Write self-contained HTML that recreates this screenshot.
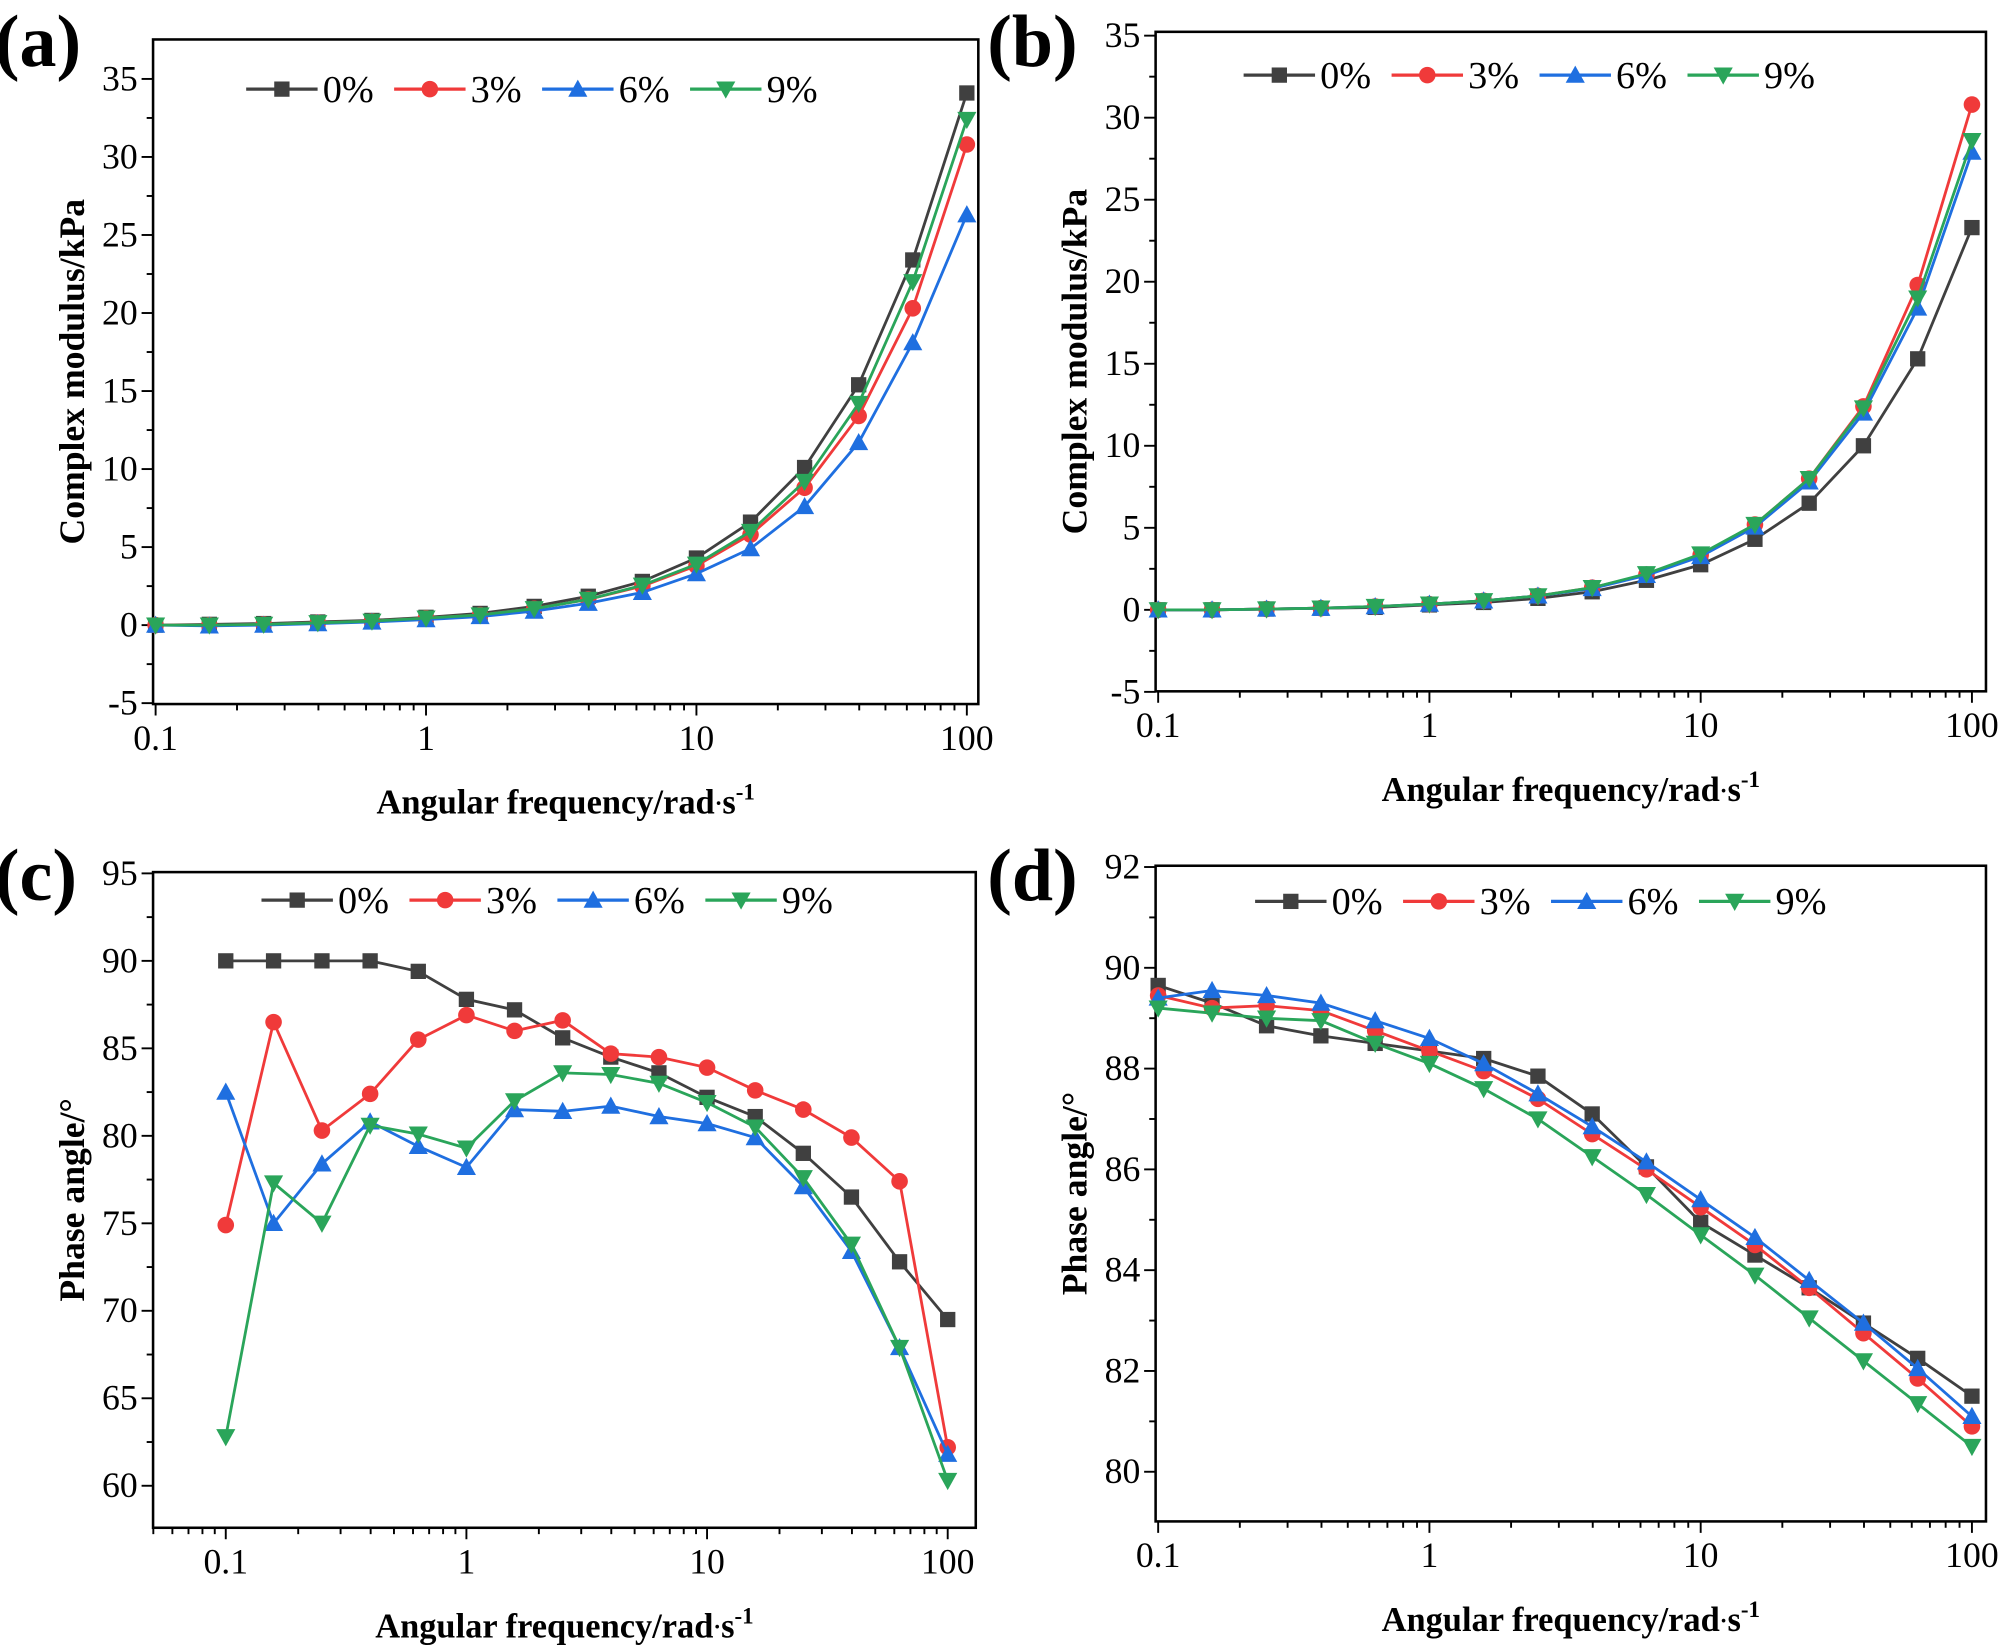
<!DOCTYPE html>
<html><head><meta charset="utf-8"><style>
html,body{margin:0;padding:0;background:#fff}
svg{display:block}
text{font-family:"Liberation Serif",serif}
</style></head><body>
<svg id="fig" width="2000" height="1650" viewBox="0 0 1568 1296" preserveAspectRatio="none" xmlns="http://www.w3.org/2000/svg"></svg>
<script>
const freqs=[0.1,0.158,0.251,0.398,0.631,1,1.585,2.512,3.981,6.31,10,15.85,25.12,39.81,63.1,100];
const seriesNames=["0%","3%","6%","9%"];
const aS0=[0,0.05,0.1,0.2,0.3,0.5,0.75,1.2,1.85,2.8,4.3,6.6,10.1,15.4,23.4,34.1];
const aS3=[0,0,0.05,0.15,0.25,0.45,0.65,1.05,1.65,2.5,3.8,5.8,8.8,13.4,20.3,30.8];
const aS6=[0,-0.05,0,0.1,0.2,0.35,0.55,0.9,1.4,2.1,3.3,4.9,7.6,11.7,18.1,26.3];
const aS9=[0,0,0.05,0.15,0.25,0.45,0.65,1.05,1.65,2.55,3.9,6.0,9.2,14.2,22.0,32.4];
const bS0=[0,0,0.05,0.1,0.15,0.3,0.45,0.7,1.1,1.8,2.75,4.3,6.5,10.0,15.3,23.3];
const bS3=[0,0,0.05,0.1,0.2,0.35,0.55,0.85,1.35,2.15,3.35,5.2,8.0,12.4,19.8,30.8];
const bS6=[0,0,0.05,0.1,0.2,0.35,0.55,0.85,1.3,2.1,3.25,5.05,7.8,12.0,18.4,27.9];
const bS9=[0,0,0.05,0.1,0.2,0.35,0.55,0.85,1.35,2.2,3.4,5.2,8.0,12.3,19.0,28.6];
const cS0=[90,90,90,90,89.4,87.8,87.2,85.6,84.5,83.6,82.2,81.1,79.0,76.5,72.8,69.5];
const cS3=[74.9,86.5,80.3,82.4,85.5,86.9,86.0,86.6,84.7,84.5,83.9,82.6,81.5,79.9,77.4,62.2];
const cS6=[82.5,75.0,78.4,80.8,79.4,78.2,81.5,81.4,81.7,81.1,80.7,79.9,77.1,73.4,67.9,61.8];
const cS9=[62.8,77.3,75.0,80.6,80.1,79.3,82.0,83.6,83.5,83.0,81.9,80.5,77.6,73.8,67.9,60.3];
const dS0=[89.65,89.3,88.85,88.65,88.5,88.35,88.2,87.85,87.1,86.05,84.95,84.3,83.65,82.95,82.25,81.5];
const dS3=[89.45,89.2,89.25,89.15,88.75,88.35,87.95,87.4,86.7,86.0,85.25,84.5,83.65,82.75,81.85,80.9];
const dS6=[89.4,89.55,89.45,89.3,88.95,88.6,88.1,87.5,86.85,86.15,85.4,84.65,83.8,82.95,82.05,81.1];
const dS9=[89.2,89.1,89.0,88.95,88.5,88.1,87.6,87.0,86.25,85.5,84.7,83.9,83.05,82.2,81.35,80.5];
const xTickLabels=["0.1","1","10","100"];
const xTickVals=[0.1,1,10,100];
const aYTicks=[-5,0,5,10,15,20,25,30,35];
const cYTicks=[60,65,70,75,80,85,90,95];
const dYTicks=[80,82,84,86,88,90,92];

const colors=["#404040","#f03a3a","#1f6fe0","#2aa55a"];
const markers=["sq","ci","tu","td"];
const NS="http://www.w3.org/2000/svg";
const svg=document.getElementById('fig');
function el(tag,attrs,parent){const e=document.createElementNS(NS,tag);for(const k in attrs)e.setAttribute(k,attrs[k]);(parent||svg).appendChild(e);return e;}
function marker(g,type,x,y,c){
  let e;
  if(type==="sq")e=el('rect',{x:x-6,y:y-6,width:12,height:12,fill:c},g);
  else if(type==="ci")e=el('circle',{cx:x,cy:y,r:6.5,fill:c},g);
  else if(type==="tu")e=el('polygon',{points:`${x},${y-7.5} ${x+7.5},${y+6} ${x-7.5},${y+6}`,fill:c},g);
  else e=el('polygon',{points:`${x},${y+7.5} ${x+7.5},${y-6} ${x-7.5},${y-6}`,fill:c},g);
  
  
}
function panel(o){
  const g=el('g',{});
  
  
  const lx=v=>o.x0+(Math.log10(v)-Math.log10(o.xmin))/(Math.log10(o.xmax)-Math.log10(o.xmin))*(o.x1-o.x0);
  const ly=v=>o.y0b+(v-o.ymin)/(o.ymax-o.ymin)*(o.y1t-o.y0b);
  const fr=el('rect',{x:o.fl,y:o.ft,width:o.fr-o.fl,height:o.fb-o.ft,fill:"none",stroke:"#000","stroke-width":2},g);
  
  for(let d=-2;d<=2;d++){for(let m=1;m<10;m++){const v=m*Math.pow(10,d);const x=lx(v);if(x<o.fl-0.5||x>o.fr+0.5)continue;
    el('line',{x1:x,x2:x,y1:o.fb,y2:o.fb+(m===1?9:5),stroke:"#000","stroke-width":1.5},g);}}
  xTickVals.forEach((v,i)=>{const t=el('text',{x:lx(v),y:o.fb+36,"font-size":28,"text-anchor":"middle",transform:`translate(${lx(v)*(1-1)},0)`},g);t.textContent=xTickLabels[i];
    });
  const step=o.yt[1]-o.yt[0];
  o.yt.forEach((v,i)=>{const y=ly(v);el('line',{x1:o.fl-9,x2:o.fl,y1:y,y2:y,stroke:"#000","stroke-width":1.5},g);
    if(i<o.yt.length-1){const ym=ly(v+step/2);el('line',{x1:o.fl-5,x2:o.fl,y1:ym,y2:ym,stroke:"#000","stroke-width":1.5},g);}
    const t=el('text',{x:o.fl-12,y:y+9,"font-size":28,"text-anchor":"end"},g);t.textContent=String(v);
    });
  const xt=el('text',{x:(o.fl+o.fr)/2,y:o.fb+86,"font-size":27,"font-weight":"bold","text-anchor":"middle"},g);
  xt.innerHTML='Angular frequency/rad<tspan font-size="18" dy="-2">·</tspan><tspan dy="2">s</tspan><tspan font-size="18" dy="-11">-1</tspan>';
  
  const yc=(o.ft+o.fb)/2;
  const yt=el('text',{x:o.ytx,y:yc,"font-size":28,"font-weight":"bold","text-anchor":"middle",transform:`rotate(-90 ${o.ytx} ${yc})`},g);
  yt.textContent=o.ytitle;
  const pl=el('text',{x:o.plx,y:o.ply,"font-size":58,"font-weight":"bold"},g);pl.textContent='('+o.id+')';
  
  o.series.forEach((s,si)=>{
    const sg=el('g',{},g);
    
    
    const pts=freqs.map((f,i)=>lx(f).toFixed(1)+','+ly(s[i]).toFixed(1)).join(' ');
    el('polyline',{points:pts,fill:"none",stroke:colors[si],"stroke-width":2.2},sg);
    freqs.forEach((f,i)=>marker(sg,markers[si],lx(f),ly(s[i]),colors[si]));
  });
  const lg=el('g',{},g);
  seriesNames.forEach((n,i)=>{const x=o.lgx+i*116,y=o.lgy;
    const e=el('g',{},lg);
    el('line',{x1:x,x2:x+56,y1:y,y2:y,stroke:colors[i],"stroke-width":2.5},e);
    marker(e,markers[i],x+28,y,colors[i]);
    const t=el('text',{x:x+60,y:y+10,"font-size":30},e);t.textContent=n;});
}
panel({id:'a',fl:120,fr:767,ft:31,fb:553,x0:122,x1:758,xmin:0.1,xmax:100,y0b:491,y1t:62,ymin:0,ymax:35,yt:aYTicks,
  series:[aS0,aS3,aS6,aS9],ytitle:'Complex modulus/kPa',ytx:66,plx:-4,ply:52,lgx:193,lgy:70});
panel({id:'b',fl:906,fr:1557,ft:25,fb:543,x0:908,x1:1546,xmin:0.1,xmax:100,y0b:479,y1t:28,ymin:0,ymax:35,yt:aYTicks,
  series:[bS0,bS3,bS6,bS9],ytitle:'Complex modulus/kPa',ytx:852,plx:774,ply:52,lgx:975,lgy:59});
panel({id:'c',fl:120,fr:765,ft:685,fb:1200,x0:177,x1:743,xmin:0.1,xmax:100,y0b:1167,y1t:686,ymin:60,ymax:95,yt:cYTicks,
  series:[cS0,cS3,cS6,cS9],ytitle:'Phase angle/°',ytx:66,plx:-4,ply:707,lgx:205,lgy:707});
panel({id:'d',fl:906,fr:1557,ft:680,fb:1195,x0:908,x1:1546,xmin:0.1,xmax:100,y0b:1156,y1t:681,ymin:80,ymax:92,yt:dYTicks,
  series:[dS0,dS3,dS6,dS9],ytitle:'Phase angle/°',ytx:852,plx:774,ply:707,lgx:984,lgy:708});
</script>
</body></html>
